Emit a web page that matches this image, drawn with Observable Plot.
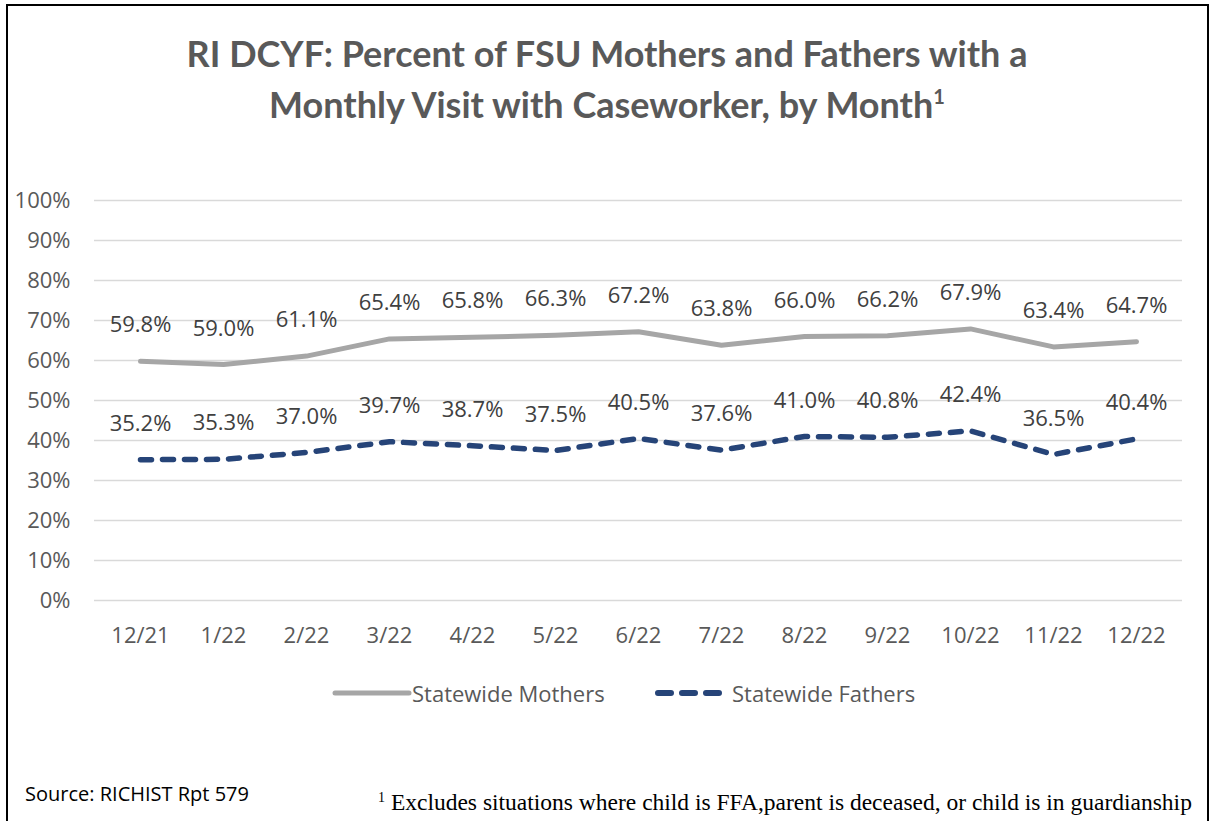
<!DOCTYPE html>
<html>
<head>
<meta charset="utf-8">
<script src="https://cdn.jsdelivr.net/npm/d3@7"></script>
<script src="https://cdn.jsdelivr.net/npm/@observablehq/plot@0.6"></script>
<style>
  html, body { margin: 0; padding: 0; background: #fff; }
  #page { position: relative; width: 1214px; height: 821px; overflow: hidden; }
  #frame { position: absolute; left: 6px; top: 4px; width: 1203px; height: 840px; border: 2px solid #000; box-sizing: border-box; }
  #title { position: absolute; left: 0; width: 1214px; top: 28px; text-align: center; font-family: Lato, "Open Sans", sans-serif; font-weight: bold; font-size: 36px; line-height: 51px; color: #595959; }
  #title .sup { font-size: 20px; position: relative; top: -14px; }
  #chart { position: absolute; left: 0; top: 150px; }
  #legend { position: absolute; top: 680px; left: 0; width: 1214px; font-family: "Open Sans", sans-serif; font-size: 22px; color: #595959; }
  .leg { position: absolute; top: 0; height: 26px; display: flex; align-items: center; }
  #source { position: absolute; left: 25px; top: 784px; font-family: "Open Sans", sans-serif; font-size: 20px; line-height: 20px; color: #000; }
  #foot { position: absolute; left: 378px; top: 790px; font-family: "Liberation Serif", "DejaVu Serif", serif; font-size: 23.5px; line-height: 24px; color: #000; white-space: nowrap; }
  #foot .sup { font-size: 14px; position: relative; top: -8px; }
</style>
</head>
<body>
<div id="page">
  <div id="frame"></div>
  <div id="title">RI DCYF: Percent of FSU Mothers and Fathers with a<br>Monthly Visit with Caseworker, by Month<span class="sup">1</span></div>
  <div id="chart"></div>
  <div id="legend">
    <div class="leg" style="left:332px;">
      <svg width="80" height="26"><line x1="3" y1="13" x2="77" y2="13" stroke="#A6A6A6" stroke-width="5" stroke-linecap="round"/></svg>
      <span>Statewide Mothers</span>
    </div>
    <div class="leg" style="left:654px;">
      <svg width="78" height="26"><line x1="4" y1="13" x2="66" y2="13" stroke="#264478" stroke-width="6" stroke-linecap="round" stroke-dasharray="13,11"/></svg>
      <span>Statewide Fathers</span>
    </div>
  </div>
  <div id="source">Source: RICHIST Rpt 579</div>
  <div id="foot"><span class="sup">1</span> Excludes situations where child is FFA,parent is deceased, or child is in guardianship</div>
</div>
<script>
const months = ["12/21","1/22","2/22","3/22","4/22","5/22","6/22","7/22","8/22","9/22","10/22","11/22","12/22"];
const mothers = [59.8, 59.0, 61.1, 65.4, 65.8, 66.3, 67.2, 63.8, 66.0, 66.2, 67.9, 63.4, 64.7];
const fathers = [35.2, 35.3, 37.0, 39.7, 38.7, 37.5, 40.5, 37.6, 41.0, 40.8, 42.4, 36.5, 40.4];
const yTicks = [0, 10, 20, 30, 40, 50, 60, 70, 80, 90, 100];

const mData = months.map((m, i) => ({month: m, value: mothers[i]}));
const fData = months.map((m, i) => ({month: m, value: fathers[i]}));

const chart = Plot.plot({
  width: 1214,
  height: 510,
  marginLeft: 94,
  marginRight: 32,
  marginTop: 50,
  marginBottom: 60,
  style: {fontFamily: "'Open Sans', sans-serif", fontSize: "22px", color: "#595959", background: "transparent"},
  x: {type: "point", domain: months, padding: 0.5, label: null},
  y: {domain: [0, 100], label: null},
  marks: [
    Plot.ruleY(yTicks, {stroke: "#D9D9D9", strokeWidth: 1.5}),
    Plot.axisY({ticks: yTicks, tickFormat: d => d + "%", tickSize: 0, tickPadding: 24, label: null, fill: "#595959", fontSize: 22}),
    Plot.axisX({tickSize: 0, tickPadding: 27, label: null, fill: "#595959", fontSize: 22}),
    Plot.line(mData, {x: "month", y: "value", stroke: "#A6A6A6", strokeWidth: 5, strokeLinejoin: "round", strokeLinecap: "round"}),
    Plot.line(fData, {x: "month", y: "value", stroke: "#264478", strokeWidth: 5.5, strokeLinejoin: "round", strokeLinecap: "round", strokeDasharray: "11,11"}),
    Plot.text(mData, {x: "month", y: "value", text: d => d.value.toFixed(1) + "%", dy: -36, fill: "#404040", fontSize: 22}),
    Plot.text(fData, {x: "month", y: "value", text: d => d.value.toFixed(1) + "%", dy: -36, fill: "#404040", fontSize: 22})
  ]
});
document.getElementById("chart").appendChild(chart);
</script>
</body>
</html>
